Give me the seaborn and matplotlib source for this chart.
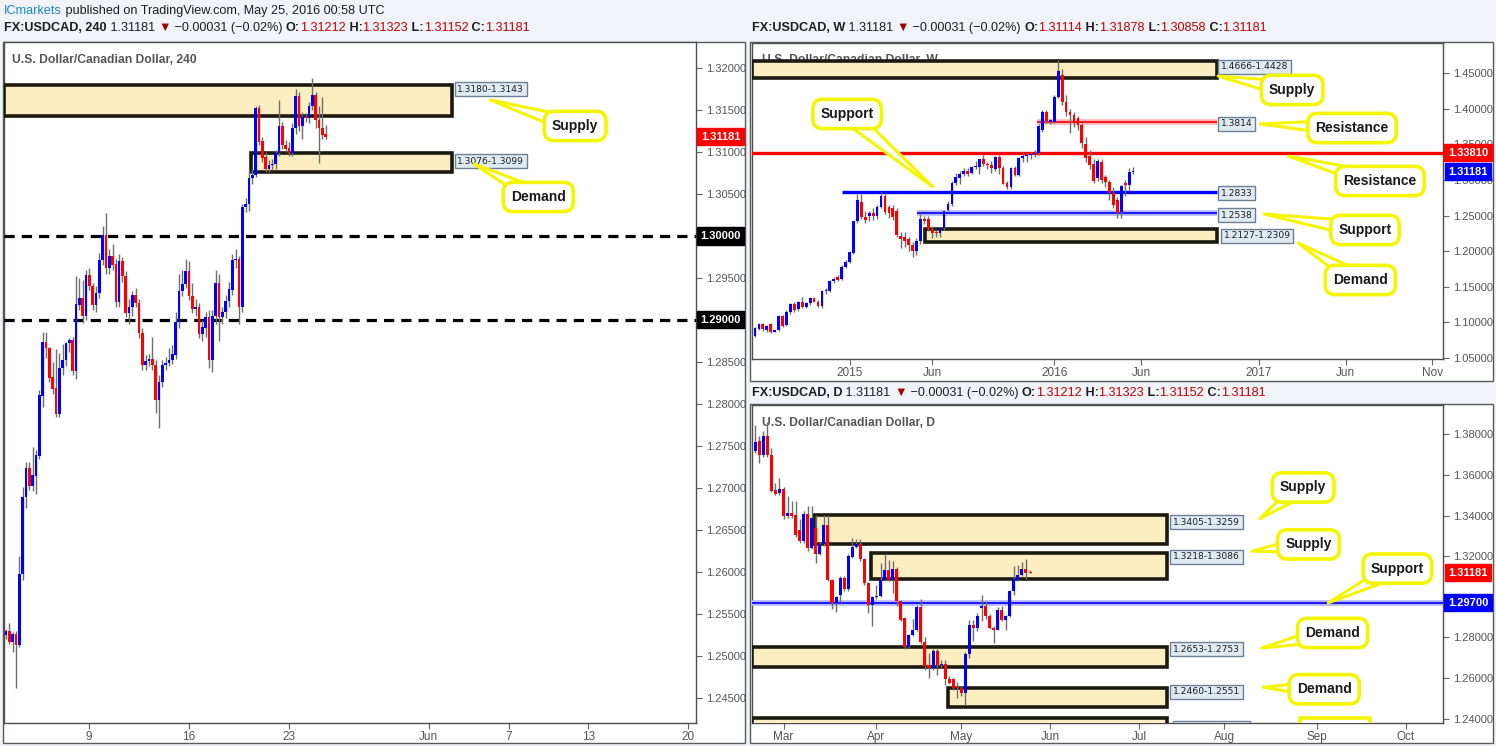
import numpy as np
import pandas as pd
import matplotlib
matplotlib.use('Agg')
import matplotlib.pyplot as plt
import matplotlib.transforms as mtrans
from matplotlib.patches import Rectangle
from matplotlib.ticker import FormatStrFormatter
import seaborn as sns

sns.set_theme(style='white')
plt.rcParams['font.family'] = ['Liberation Sans', 'DejaVu Sans']
HEAD_FONT = ['Liberation Sans', 'DejaVu Sans']

# ---------------- data: 4h candles (USDCAD, 240) ----------------
h4_open = [1.2525, 1.2529, 1.2517, 1.2526, 1.2513, 1.2597, 1.2689, 1.2724, 1.2702, 1.2714,
           1.2738, 1.2810, 1.2874, 1.2866, 1.2832, 1.2819, 1.2788, 1.2843, 1.2852, 1.2872,
           1.2876, 1.2839, 1.2918, 1.2926, 1.2905, 1.2954, 1.2940, 1.2918, 1.2932, 1.2971,
           1.3001, 1.2962, 1.2976, 1.2967, 1.2921, 1.2970, 1.2952, 1.2908, 1.2915, 1.2930,
           1.2920, 1.2884, 1.2846, 1.2851, 1.2853, 1.2846, 1.2805, 1.2826, 1.2846, 1.2849,
           1.2852, 1.2858, 1.2897, 1.2935, 1.2943, 1.2958, 1.2928, 1.2913, 1.2916, 1.2883,
           1.2890, 1.2904, 1.2852, 1.2905, 1.2944, 1.2903, 1.2910, 1.2923, 1.2936, 1.2971,
           1.2972, 1.2915, 1.3034, 1.3038, 1.3069, 1.3073, 1.3152, 1.3113, 1.3094, 1.3080,
           1.3084, 1.3086, 1.3099, 1.3131, 1.3108, 1.3105, 1.3099, 1.3128, 1.3167, 1.3131,
           1.3142, 1.3140, 1.3155, 1.3168, 1.3138, 1.3129, 1.3121]
h4_high = [1.2532, 1.2539, 1.2528, 1.2530, 1.2619, 1.2701, 1.2731, 1.2731, 1.2749, 1.2745,
           1.2817, 1.2886, 1.2886, 1.2868, 1.2850, 1.2865, 1.2861, 1.2871, 1.2874, 1.2878,
           1.2880, 1.2952, 1.2950, 1.2948, 1.2960, 1.2962, 1.2944, 1.2940, 1.2980, 1.3012,
           1.3027, 1.2985, 1.2990, 1.2972, 1.2978, 1.2975, 1.2958, 1.2925, 1.2935, 1.2938,
           1.2925, 1.2890, 1.2858, 1.2860, 1.2880, 1.2852, 1.2835, 1.2852, 1.2856, 1.2866,
           1.2870, 1.2910, 1.2955, 1.2960, 1.2972, 1.2970, 1.2944, 1.2925, 1.2920, 1.2900,
           1.2910, 1.2912, 1.2912, 1.2960, 1.2955, 1.2915, 1.2930, 1.2945, 1.2978, 1.2985,
           1.2976, 1.3038, 1.3045, 1.3078, 1.3080, 1.3155, 1.3156, 1.3118, 1.3100, 1.3090,
           1.3092, 1.3102, 1.3162, 1.3136, 1.3114, 1.3112, 1.3135, 1.3175, 1.3172, 1.3148,
           1.3146, 1.3160, 1.3188, 1.3172, 1.3155, 1.3165, 1.3132]
h4_low = [1.2520, 1.2514, 1.2504, 1.2462, 1.2510, 1.2590, 1.2676, 1.2698, 1.2696, 1.2693,
          1.2734, 1.2796, 1.2855, 1.2826, 1.2812, 1.2785, 1.2784, 1.2835, 1.2845, 1.2862,
          1.2835, 1.2830, 1.2912, 1.2896, 1.2900, 1.2936, 1.2912, 1.2910, 1.2926, 1.2965,
          1.2955, 1.2955, 1.2960, 1.2915, 1.2915, 1.2945, 1.2904, 1.2895, 1.2905, 1.2915,
          1.2878, 1.2840, 1.2840, 1.2845, 1.2840, 1.2789, 1.2771, 1.2820, 1.2840, 1.2845,
          1.2848, 1.2854, 1.2890, 1.2928, 1.2938, 1.2924, 1.2908, 1.2905, 1.2878, 1.2875,
          1.2880, 1.2843, 1.2838, 1.2895, 1.2875, 1.2895, 1.2902, 1.2915, 1.2930, 1.2962,
          1.2895, 1.2910, 1.3028, 1.3030, 1.3062, 1.3070, 1.3108, 1.3088, 1.3076, 1.3076,
          1.3078, 1.3080, 1.3095, 1.3104, 1.3100, 1.3095, 1.3095, 1.3122, 1.3125, 1.3115,
          1.3136, 1.3135, 1.3150, 1.3128, 1.3087, 1.3115, 1.3115]
h4_close = [1.2529, 1.2517, 1.2526, 1.2513, 1.2597, 1.2689, 1.2724, 1.2702, 1.2715, 1.2739,
            1.2811, 1.2874, 1.2866, 1.2831, 1.2818, 1.2788, 1.2843, 1.2852, 1.2872, 1.2876,
            1.2839, 1.2919, 1.2926, 1.2905, 1.2954, 1.2940, 1.2918, 1.2932, 1.2971, 1.3001,
            1.2962, 1.2976, 1.2965, 1.2921, 1.2970, 1.2952, 1.2908, 1.2915, 1.2930, 1.2920,
            1.2884, 1.2846, 1.2851, 1.2853, 1.2846, 1.2805, 1.2826, 1.2846, 1.2849, 1.2852,
            1.2860, 1.2898, 1.2935, 1.2943, 1.2958, 1.2928, 1.2913, 1.2916, 1.2883, 1.2891,
            1.2904, 1.2852, 1.2905, 1.2944, 1.2903, 1.2910, 1.2923, 1.2937, 1.2971, 1.2972,
            1.2915, 1.3034, 1.3038, 1.3069, 1.3073, 1.3152, 1.3112, 1.3093, 1.3080, 1.3084,
            1.3086, 1.3099, 1.3131, 1.3108, 1.3104, 1.3099, 1.3128, 1.3167, 1.3131, 1.3142,
            1.3140, 1.3155, 1.3168, 1.3138, 1.3129, 1.3120, 1.3118]
h4_tick_days = ['2016-05-09', '2016-05-16', '2016-05-23', '2016-06-01', '2016-06-07', '2016-06-13', '2016-06-20']
h4_tick_labels = ['9', '16', '23', 'Jun', '7', '13', '20']
# 1.29 / 1.30 sit under the black price tags
h4_yticks = [1.245, 1.25, 1.255, 1.26, 1.265, 1.27, 1.275, 1.28, 1.285, 1.295,
             1.305, 1.31, 1.315, 1.32]

# ---------------- data: weekly candles ----------------
wk_start = '2014-07-21'
wk_open = [1.0815, 1.0904, 1.0979, 1.0895, 1.0979, 1.0871, 1.0895, 1.1096, 1.0965, 1.1152,
           1.1260, 1.1185, 1.1283, 1.1222, 1.1269, 1.1340, 1.1293, 1.1232, 1.1440, 1.1447,
           1.1588, 1.1634, 1.1616, 1.1784, 1.1854, 1.1981, 1.2430, 1.2697, 1.2486, 1.2500,
           1.2542, 1.2500, 1.2626, 1.2776, 1.2617, 1.2608, 1.2570, 1.2219, 1.2205, 1.2168,
           1.2084, 1.1999, 1.2149, 1.2449, 1.2449, 1.2308, 1.2261, 1.2252, 1.2322, 1.2580,
           1.2664, 1.2963, 1.3024, 1.3085, 1.3132, 1.3104, 1.3188, 1.3188, 1.3291, 1.3225,
           1.3211, 1.3151, 1.3328, 1.3165, 1.2954, 1.2898, 1.3165, 1.3071, 1.3305, 1.3338,
           1.3352, 1.3366, 1.3375, 1.3703, 1.3960, 1.3820, 1.3820, 1.4171, 1.4475, 1.4101,
           1.3960, 1.3913, 1.3867, 1.3773, 1.3506, 1.3338, 1.3225, 1.3024, 1.3258, 1.3038,
           1.2977, 1.2814, 1.2720, 1.2547, 1.2954, 1.2931, 1.3111]
wk_high = [1.0930, 1.0990, 1.0990, 1.0965, 1.0995, 1.0900, 1.1110, 1.1110, 1.1170, 1.1270,
           1.1290, 1.1300, 1.1350, 1.1290, 1.1360, 1.1360, 1.1310, 1.1460, 1.1480, 1.1600,
           1.1640, 1.1670, 1.1800, 1.1870, 1.1990, 1.2430, 1.2800, 1.2800, 1.2560, 1.2560,
           1.2600, 1.2650, 1.2835, 1.2800, 1.2650, 1.2650, 1.2610, 1.2270, 1.2270, 1.2200,
           1.2130, 1.2180, 1.2520, 1.2500, 1.2500, 1.2360, 1.2300, 1.2340, 1.2570, 1.2700,
           1.2980, 1.3100, 1.3130, 1.3170, 1.3170, 1.3200, 1.3260, 1.3300, 1.3350, 1.3250,
           1.3260, 1.3330, 1.3350, 1.3200, 1.2980, 1.3180, 1.3200, 1.3320, 1.3400, 1.3380,
           1.3390, 1.3420, 1.3780, 1.3990, 1.3990, 1.3860, 1.4200, 1.4690, 1.4560, 1.4200,
           1.4000, 1.3950, 1.3900, 1.3800, 1.3600, 1.3420, 1.3300, 1.3300, 1.3290, 1.3070,
           1.3000, 1.2900, 1.2760, 1.2930, 1.3000, 1.3170, 1.3188]
wk_low = [1.0800, 1.0890, 1.0880, 1.0870, 1.0850, 1.0860, 1.0880, 1.0940, 1.0950, 1.1120,
          1.1150, 1.1160, 1.1200, 1.1200, 1.1240, 1.1280, 1.1220, 1.1200, 1.1400, 1.1420,
          1.1560, 1.1580, 1.1600, 1.1760, 1.1830, 1.1960, 1.2400, 1.2450, 1.2400, 1.2430,
          1.2440, 1.2450, 1.2600, 1.2520, 1.2460, 1.2440, 1.2200, 1.2040, 1.2060, 1.2000,
          1.1920, 1.1950, 1.2100, 1.2380, 1.2280, 1.2180, 1.2200, 1.2200, 1.2300, 1.2560,
          1.2640, 1.2930, 1.2950, 1.3050, 1.3060, 1.3080, 1.3150, 1.3090, 1.3200, 1.3150,
          1.3100, 1.3120, 1.3090, 1.2940, 1.2880, 1.2870, 1.3050, 1.3050, 1.3250, 1.3250,
          1.3300, 1.3320, 1.3350, 1.3680, 1.3800, 1.3780, 1.3800, 1.4150, 1.4050, 1.3900,
          1.3656, 1.3750, 1.3700, 1.3450, 1.3250, 1.3150, 1.2960, 1.2980, 1.2960, 1.2900,
          1.2720, 1.2600, 1.2460, 1.2460, 1.2780, 1.2840, 1.3086]
wk_close = [1.0918, 1.0979, 1.0904, 1.0951, 1.0871, 1.0895, 1.1096, 1.0956, 1.1152, 1.1260,
            1.1176, 1.1283, 1.1222, 1.1269, 1.1340, 1.1293, 1.1232, 1.1447, 1.1450, 1.1583,
            1.1616, 1.1597, 1.1784, 1.1854, 1.1990, 1.2430, 1.2720, 1.2486, 1.2439, 1.2542,
            1.2500, 1.2626, 1.2776, 1.2556, 1.2533, 1.2486, 1.2229, 1.2177, 1.2149, 1.2084,
            1.1999, 1.2149, 1.2449, 1.2430, 1.2308, 1.2261, 1.2252, 1.2322, 1.2570, 1.2664,
            1.2963, 1.3038, 1.3085, 1.3132, 1.3085, 1.3188, 1.3197, 1.3291, 1.3225, 1.3211,
            1.3165, 1.3328, 1.3165, 1.2945, 1.2898, 1.3165, 1.3071, 1.3305, 1.3338, 1.3352,
            1.3366, 1.3375, 1.3759, 1.3960, 1.3834, 1.3843, 1.4171, 1.4536, 1.4101, 1.3960,
            1.3913, 1.3806, 1.3773, 1.3516, 1.3305, 1.3211, 1.2990, 1.3272, 1.3001, 1.2977,
            1.2814, 1.2650, 1.2533, 1.2917, 1.2931, 1.3108, 1.3118]
wk_tick_dates = ['2015-01-01', '2015-06-01', '2016-01-01', '2016-06-01', '2017-01-01', '2017-06-01', '2017-11-01']
wk_tick_labels = ['2015', 'Jun', '2016', 'Jun', '2017', 'Jun', 'Nov']
wk_yticks = [1.05, 1.10, 1.15, 1.20, 1.25, 1.30, 1.35, 1.40, 1.45]

# ---------------- data: daily candles ----------------
d_start = '2016-02-19'
d_open = [1.3719, 1.3768, 1.3699, 1.3793, 1.3697, 1.3526, 1.3510, 1.3533, 1.3398, 1.3411,
          1.3401, 1.3327, 1.3274, 1.3406, 1.3241, 1.3340, 1.3213, 1.3258, 1.3352, 1.3085,
          1.2970, 1.3011, 1.3093, 1.3039, 1.3196, 1.3245, 1.3261, 1.3184, 1.3069, 1.2962,
          1.3000, 1.3006, 1.3085, 1.3134, 1.3085, 1.3138, 1.2978, 1.2895, 1.2752, 1.2813,
          1.2838, 1.2950, 1.2776, 1.2665, 1.2649, 1.2731, 1.2665, 1.2668, 1.2595, 1.2595,
          1.2555, 1.2550, 1.2525, 1.2720, 1.2863, 1.2846, 1.2945, 1.2957, 1.2904, 1.2846,
          1.2838, 1.2937, 1.2887, 1.2907, 1.3028, 1.3085, 1.3105, 1.3138, 1.3121]
d_high = [1.3845, 1.3790, 1.3817, 1.3859, 1.3730, 1.3559, 1.3584, 1.3540, 1.3497, 1.3472,
          1.3472, 1.3381, 1.3422, 1.3447, 1.3447, 1.3401, 1.3270, 1.3401, 1.3401, 1.3090,
          1.3005, 1.3100, 1.3100, 1.3210, 1.3291, 1.3283, 1.3283, 1.3190, 1.3075, 1.3005,
          1.3060, 1.3167, 1.3213, 1.3179, 1.3176, 1.3145, 1.2985, 1.2900, 1.2815, 1.2892,
          1.2960, 1.2990, 1.2800, 1.2723, 1.2748, 1.2748, 1.2690, 1.2690, 1.2610, 1.2600,
          1.2583, 1.2560, 1.2730, 1.2884, 1.2884, 1.2920, 1.3011, 1.2978, 1.2915, 1.2855,
          1.2950, 1.2953, 1.2910, 1.3035, 1.3151, 1.3159, 1.3171, 1.3184, 1.3132]
d_low = [1.3710, 1.3661, 1.3690, 1.3690, 1.3515, 1.3500, 1.3500, 1.3381, 1.3390, 1.3390,
         1.3295, 1.3265, 1.3265, 1.3225, 1.3235, 1.3164, 1.3205, 1.3250, 1.3080, 1.2940,
         1.2924, 1.2975, 1.3030, 1.3030, 1.3190, 1.3238, 1.3175, 1.3060, 1.2920, 1.2855,
         1.2990, 1.3000, 1.3080, 1.3080, 1.3019, 1.2955, 1.2880, 1.2745, 1.2748, 1.2808,
         1.2830, 1.2770, 1.2640, 1.2600, 1.2640, 1.2616, 1.2650, 1.2566, 1.2570, 1.2540,
         1.2501, 1.2510, 1.2468, 1.2700, 1.2785, 1.2830, 1.2880, 1.2890, 1.2840, 1.2772,
         1.2835, 1.2880, 1.2835, 1.2900, 1.3011, 1.3080, 1.3100, 1.3088, 1.3115]
d_close = [1.3763, 1.3699, 1.3793, 1.3697, 1.3521, 1.3505, 1.3533, 1.3398, 1.3411, 1.3398,
           1.3304, 1.3274, 1.3406, 1.3241, 1.3389, 1.3213, 1.3258, 1.3352, 1.3085, 1.2970,
           1.2999, 1.3093, 1.3039, 1.3200, 1.3245, 1.3261, 1.3184, 1.3069, 1.2961, 1.2999,
           1.3006, 1.3085, 1.3134, 1.3085, 1.3138, 1.2978, 1.2887, 1.2752, 1.2813, 1.2838,
           1.2950, 1.2776, 1.2658, 1.2649, 1.2731, 1.2665, 1.2669, 1.2595, 1.2575, 1.2550,
           1.2549, 1.2525, 1.2720, 1.2863, 1.2846, 1.2904, 1.2957, 1.2904, 1.2846, 1.2838,
           1.2933, 1.2887, 1.2907, 1.3031, 1.3088, 1.3105, 1.3138, 1.3118, 1.3118]
d_tick_dates = ['2016-03-01', '2016-04-01', '2016-05-02', '2016-06-01', '2016-07-01', '2016-08-01', '2016-09-01', '2016-10-03']
d_tick_labels = ['Mar', 'Apr', 'May', 'Jun', 'Jul', 'Aug', 'Sep', 'Oct']
# 1.30 sits under the blue price tag
d_yticks = [1.24, 1.26, 1.28, 1.32, 1.34, 1.36, 1.38]

# ---------------- figure ----------------
W, H = 1496, 746
fig = plt.figure(figsize=(W / 100, H / 100), dpi=100, facecolor='#f0f3f7')


def px_axes(x0, y0, x1, y1):
    return fig.add_axes([x0 / W, 1 - y1 / H, (x1 - x0) / W, (y1 - y0) / H])


def frame(x0, y0, x1, y1):
    fig.patches.append(Rectangle((x0 / W, 1 - y1 / H), (x1 - x0) / W, (y1 - y0) / H,
                                 transform=fig.transFigure, fc='white', ec='#5a5a5a',
                                 lw=1, zorder=-5))


frame(3, 42, 745, 743)
frame(750, 42, 1493, 381)
frame(750, 404, 1493, 743)

ax4 = px_axes(4, 42, 696, 723)
axw = px_axes(752, 43, 1443, 359)
axd = px_axes(752, 405, 1443, 723)


def style_axis(ax):
    ax.set_facecolor('white')
    for s in ax.spines.values():
        s.set_color('#4d4d4d')
        s.set_linewidth(1)
    ax.yaxis.tick_right()
    ax.tick_params(axis='y', which='both', right=True, left=False, length=4, width=0.8,
                   color='#666', labelcolor='#555', labelsize=8, pad=3)
    ax.tick_params(axis='x', which='both', bottom=True, length=4, width=0.8,
                   color='#666', labelcolor='#555', labelsize=8.5, pad=2)
    ax.yaxis.set_major_formatter(FormatStrFormatter('%.5f'))
    ax.grid(False)


def draw_candles(ax, x, o, h, l, c, width, min_body):
    o, h, l, c = (np.asarray(v, float) for v in (o, h, l, c))
    cols = np.where(c >= o, '#0000ff', '#ff0000')
    ax.vlines(x, l, h, color='#6e6e6e', lw=1, zorder=5)
    ax.bar(x, np.maximum(np.abs(c - o), min_body), bottom=np.minimum(o, c),
           width=width, color=cols, linewidth=0, zorder=6)


def zone(ax, x0, x1, lo, hi):
    ax.add_patch(Rectangle((x0, lo), x1 - x0, hi - lo, fc='#fdeec2', ec='#1c1a0e',
                           lw=2.6, zorder=3))


def level_label(ax, x, y, text):
    ax.text(x, y, text, fontsize=6.6, family='DejaVu Sans', color='#1e1e1e', ha='left',
            va='center', zorder=12,
            bbox=dict(boxstyle='square,pad=0.28', fc='#e0eaf2', ec='#6c7f93', lw=1))


def callout(ax, text, tip, center):
    ax.annotate(text, xy=tip, xytext=center, ha='center', va='center', fontsize=10,
                fontweight='bold', color='#1a1a1a', zorder=15, annotation_clip=False,
                bbox=dict(boxstyle='round,pad=0.55,rounding_size=0.7', fc='white',
                          ec='#f5f500', lw=2.6),
                arrowprops=dict(arrowstyle='wedge,tail_width=1.2,shrink_factor=0.5',
                                fc='white', ec='#f5f500', lw=2.2, patchA=None,
                                shrinkA=0, shrinkB=0))


def tag(ax, price, text, color, xc):
    tr = mtrans.blended_transform_factory(ax.transAxes, ax.transData)
    ax.text(xc, price, text, transform=tr, ha='center', va='center', color='white',
            fontsize=8, fontweight='bold', zorder=30, clip_on=False,
            bbox=dict(boxstyle='square,pad=0.32', fc=color, ec=color))


def seq_text(x_px, y_px, parts, size=9.1):
    t = fig.text(x_px / W, 1 - y_px / H, parts[0][0], color=parts[0][1],
                 fontweight=parts[0][2], fontsize=size, va='center', ha='left',
                 family=HEAD_FONT)
    for s, col, wt in parts[1:]:
        t = ax4.annotate(s, xy=(1, 0), xycoords=t, va='bottom', ha='left', color=col,
                         fontweight=wt, fontsize=size, family=HEAD_FONT,
                         annotation_clip=False)


# ================= 4h panel =================
style_axis(ax4)
n4 = len(h4_close)
x4 = np.arange(n4) + (96 - (n4 - 1))
ax4.set_xlim(-0.6, 207.3)
ax4.set_ylim(1.2420, 1.3231)
draw_candles(ax4, x4, h4_open, h4_high, h4_low, h4_close, 0.8, 0.00015)
zone(ax4, -0.6, 134.1, 1.3143, 1.3180)
zone(ax4, 73.7, 134.1, 1.3076, 1.3099)
for lvl in (1.30, 1.29):
    ax4.axhline(lvl, color='black', lw=2.3, ls=(0, (3.2, 2.2)), zorder=4)
level_label(ax4, 135.6, 1.3175, '1.3180-1.3143')
level_label(ax4, 135.6, 1.3089, '1.3076-1.3099')
callout(ax4, 'Supply', (145.5, 1.3162), (171.0, 1.3131))
callout(ax4, 'Demand', (140.7, 1.30857), (159.9, 1.30464))
ax4.set_yticks(h4_yticks)
tick4 = 25 + 6 * np.busday_count('2016-05-09', np.array(h4_tick_days, dtype='datetime64[D]'))
ax4.set_xticks(tick4)
ax4.set_xticklabels(h4_tick_labels)
ax4.text(0.0116, 0.9736, 'U.S. Dollar/Canadian Dollar, 240', transform=ax4.transAxes,
         fontsize=8.7, fontweight='bold', color='#555', va='center', zorder=1)
tag(ax4, 1.31181, '1.31181', '#ff0000', 1.0354)
tag(ax4, 1.30, '1.30000', '#000000', 1.0354)
tag(ax4, 1.29, '1.29000', '#000000', 1.0354)

# ================= weekly panel =================
style_axis(axw)
nw = len(wk_close)
xw = np.arange(nw) + (96 - (nw - 1))
axw.set_xlim(-0.76, 174.7)
axw.set_ylim(1.0486, 1.4924)
draw_candles(axw, xw, wk_open, wk_high, wk_low, wk_close, 0.7, 0.0015)
axw.text(0.0145, 0.946, 'U.S. Dollar/Canadian Dollar, W', transform=axw.transAxes,
         fontsize=8.7, fontweight='bold', color='#555', va='center', zorder=1)
zone(axw, -0.76, 117.3, 1.4428, 1.4666)
zone(axw, 43.2, 117.3, 1.2127, 1.2309)
axw.hlines(1.3814, 71.6, 117.3, color='#ffb3b3', lw=4, zorder=4)
axw.hlines(1.3814, 71.6, 117.3, color='#ff0000', lw=1.2, zorder=4)
axw.axhline(1.3381, color='#ff0000', lw=2.4, zorder=4)
axw.hlines(1.2833, 22.1, 117.3, color='#0000ff', lw=2.4, zorder=4)
axw.hlines(1.2538, 41.1, 117.3, color='#b3b3ff', lw=4, zorder=4)
axw.hlines(1.2538, 41.1, 117.3, color='#0000ff', lw=1.2, zorder=4)
level_label(axw, 118.3, 1.4587, '1.4666-1.4428')
level_label(axw, 118.3, 1.3787, '1.3814')
level_label(axw, 118.3, 1.2817, '1.2833')
level_label(axw, 118.3, 1.2508, '1.2538')
level_label(axw, 119.0, 1.2218, '1.2127-1.2309')
callout(axw, 'Support', (45.1, 1.2906), (23.4, 1.3927))
callout(axw, 'Supply', (117.6, 1.4461), (136.4, 1.4264))
callout(axw, 'Resistance', (128.3, 1.3787), (151.6, 1.3730))
callout(axw, 'Resistance', (135.4, 1.3337), (158.7, 1.2986))
callout(axw, 'Support', (129.3, 1.2522), (154.9, 1.2298))
callout(axw, 'Demand', (137.9, 1.2115), (153.7, 1.1596))
axw.set_yticks(wk_yticks)
wk0 = pd.Timestamp(wk_start)
tickw = [int(np.ceil((pd.Timestamp(d) - wk0).days / 7)) for d in wk_tick_dates]
axw.set_xticks(tickw)
axw.set_xticklabels(wk_tick_labels)
tag(axw, 1.3381, '1.33810', '#ff0000', 1.0362)
tag(axw, 1.31181, '1.31181', '#0000ff', 1.0362)

# ================= daily panel =================
style_axis(axd)
nd = len(d_close)
xd = np.arange(nd)
axd.set_xlim(-0.8, 170.2)
axd.set_ylim(1.2379, 1.3944)
draw_candles(axd, xd, d_open, d_high, d_low, d_close, 0.75, 0.0005)
axd.text(0.0145, 0.943, 'U.S. Dollar/Canadian Dollar, D', transform=axd.transAxes,
         fontsize=8.7, fontweight='bold', color='#555', va='center', zorder=1)
zone(axd, 14.5, 101.9, 1.3259, 1.3405)
zone(axd, 28.6, 101.9, 1.3086, 1.3218)
zone(axd, -0.8, 101.9, 1.2653, 1.2753)
zone(axd, 47.7, 101.9, 1.2460, 1.2551)
zone(axd, -0.8, 101.9, 1.2300, 1.2402)
axd.axhline(1.2970, color='#b3b3ff', lw=4, zorder=4)
axd.axhline(1.2970, color='#0000ff', lw=1.2, zorder=4)
level_label(axd, 103.4, 1.3368, '1.3405-1.3259')
level_label(axd, 103.4, 1.3197, '1.3218-1.3086')
level_label(axd, 103.4, 1.2743, '1.2653-1.2753')
level_label(axd, 103.4, 1.2533, '1.2460-1.2551')
callout(axd, 'Supply', (124.9, 1.3385), (135.6, 1.3538))
callout(axd, 'Supply', (122.9, 1.3225), (136.9, 1.3258))
callout(axd, 'Support', (141.8, 1.2970), (158.9, 1.3139))
callout(axd, 'Demand', (125.3, 1.2748), (142.9, 1.2822))
callout(axd, 'Demand', (125.7, 1.2555), (140.8, 1.2545))
# level label and callout cut off by the bottom of the daily pane
axd.add_patch(Rectangle((103.4, 1.2300), 19.0, 1.2389 - 1.2300, fc='#e0eaf2',
                        ec='#6c7f93', lw=1, zorder=12))
axd.add_patch(Rectangle((134.9, 1.2250), 17.3, 1.2403 - 1.2250, fc='white',
                        ec='#f5f500', lw=2.6, zorder=12))
axd.set_yticks(d_yticks)
tickd = np.busday_count(d_start, np.array(d_tick_dates, dtype='datetime64[D]'))
axd.set_xticks(tickd)
axd.set_xticklabels(d_tick_labels)
tag(axd, 1.31181, '1.31181', '#ff0000', 1.0362)
tag(axd, 1.2970, '1.29700', '#0000ff', 1.0362)

# ================= header texts =================
DARK, RED, ARROW = '#1e1e1e', '#c40000', '#a00000'
seq_text(4, 11, [('ICmarkets', '#1b87c9', 'normal'),
                 (' published on TradingView.com, May 25, 2016 00:58 UTC', DARK, 'normal')])


def ohlc_parts(tf, o, h, l, c):
    return [('FX:USDCAD, ' + tf, DARK, 'bold'), (' 1.31181 ', DARK, 'normal'),
            ('\u25bc', ARROW, 'normal'), (' \u22120.00031 (\u22120.02%) ', DARK, 'normal'),
            ('O:', DARK, 'bold'), (o, RED, 'normal'), (' H:', DARK, 'bold'), (h, RED, 'normal'),
            (' L:', DARK, 'bold'), (l, RED, 'normal'), (' C:', DARK, 'bold'), (c, RED, 'normal')]


seq_text(4, 28, ohlc_parts('240', '1.31212', '1.31323', '1.31152', '1.31181'))
seq_text(752, 28, ohlc_parts('W', '1.31114', '1.31878', '1.30858', '1.31181'))
seq_text(752, 393, ohlc_parts('D', '1.31212', '1.31323', '1.31152', '1.31181'))

fig.savefig('out.png', dpi=100, facecolor=fig.get_facecolor())
